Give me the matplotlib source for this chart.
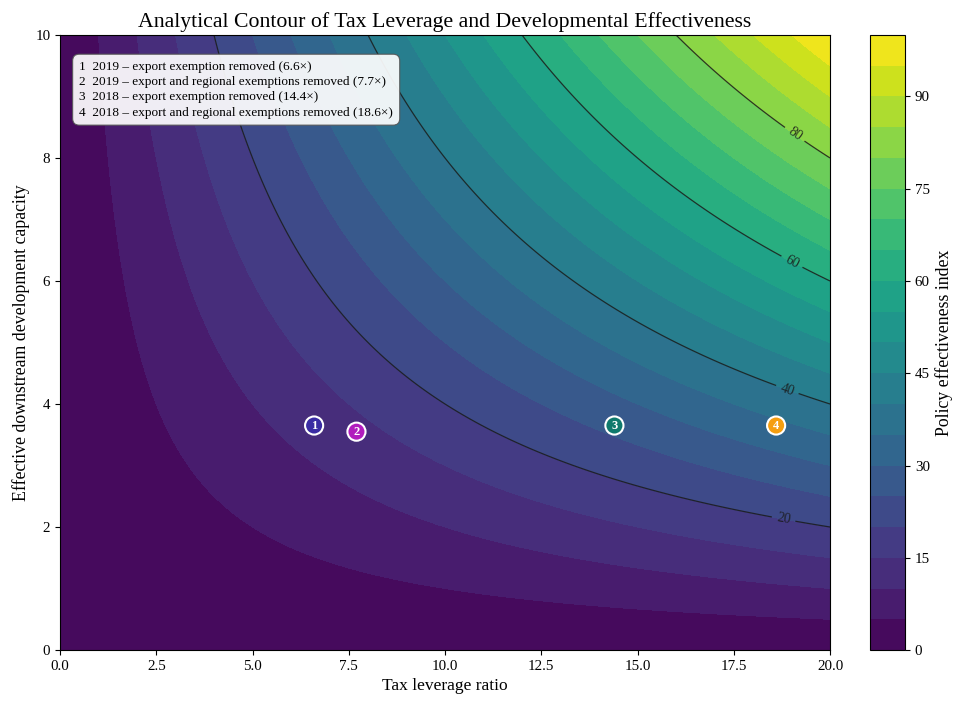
import numpy as np
import matplotlib
matplotlib.use("Agg")
import matplotlib.pyplot as plt

plt.rcParams['font.family'] = ['Liberation Serif', 'DejaVu Serif']
plt.rcParams['xtick.labelsize'] = 10.8
plt.rcParams['ytick.labelsize'] = 10.8

# Data
x_range = (0.0, 20.0)
y_range = (0.0, 10.0)
scale_factor = 0.5  # effectiveness = 0.5 * leverage * capacity
fill_levels = np.arange(0, 101, 5)
line_levels = [20, 40, 60, 80]

case_ids = ["1", "2", "3", "4"]
case_labels = [
    "2019 – export exemption removed (6.6×)",
    "2019 – export and regional exemptions removed (7.7×)",
    "2018 – export exemption removed (14.4×)",
    "2018 – export and regional exemptions removed (18.6×)",
]
case_x = [6.6, 7.7, 14.4, 18.6]
case_y = [3.65, 3.55, 3.65, 3.65]
case_colors = ["#3a2ca3", "#b11cbd", "#0f7a6c", "#f59e10"]

x = np.linspace(x_range[0], x_range[1], 400)
y = np.linspace(y_range[0], y_range[1], 400)
X, Y = np.meshgrid(x, y)
Z = scale_factor * X * Y

fig = plt.figure(figsize=(9.6, 7.08), dpi=100)
ax = fig.add_axes([0.0625, 0.0819, 0.8021, 0.8687])
cax = fig.add_axes([0.9063, 0.0819, 0.0365, 0.8687])

cf = ax.contourf(X, Y, Z, levels=fill_levels, cmap="viridis")
cs = ax.contour(X, Y, Z, levels=line_levels, colors="#1a1a1a", linewidths=0.9, alpha=0.85)
ax.clabel(cs, fmt="%d", fontsize=10,
          manual=[(18.8, 2.15), (18.9, 4.25), (19.0, 6.3), (19.1, 8.4)])

ax.scatter(case_x, case_y, s=170, c=case_colors, edgecolors="white", linewidths=1.5, zorder=5)
for cid, cx, cy in zip(case_ids, case_x, case_y):
    ax.text(cx, cy, cid, color="white", fontsize=9, fontweight="bold",
            ha="center", va="center", zorder=6)

legend_text = "\n".join(f"{i}  {l}" for i, l in zip(case_ids, case_labels))
ax.text(0.025, 0.958, legend_text, transform=ax.transAxes, fontsize=9.5,
        va="top", ha="left", linespacing=1.36,
        bbox=dict(boxstyle="round,pad=0.5", facecolor="white", edgecolor="#555555",
                  alpha=0.92, linewidth=0.8), zorder=7)

ax.set_xlim(*x_range)
ax.set_ylim(*y_range)
ax.set_xlabel("Tax leverage ratio", fontsize=12.5)
ax.set_ylabel("Effective downstream development capacity", fontsize=12.8)
ax.set_title("Analytical Contour of Tax Leverage and Developmental Effectiveness", fontsize=15.7)

cb = fig.colorbar(cf, cax=cax)
cb.set_label("Policy effectiveness index", fontsize=12.8)

fig.savefig("out.png", dpi=100)
